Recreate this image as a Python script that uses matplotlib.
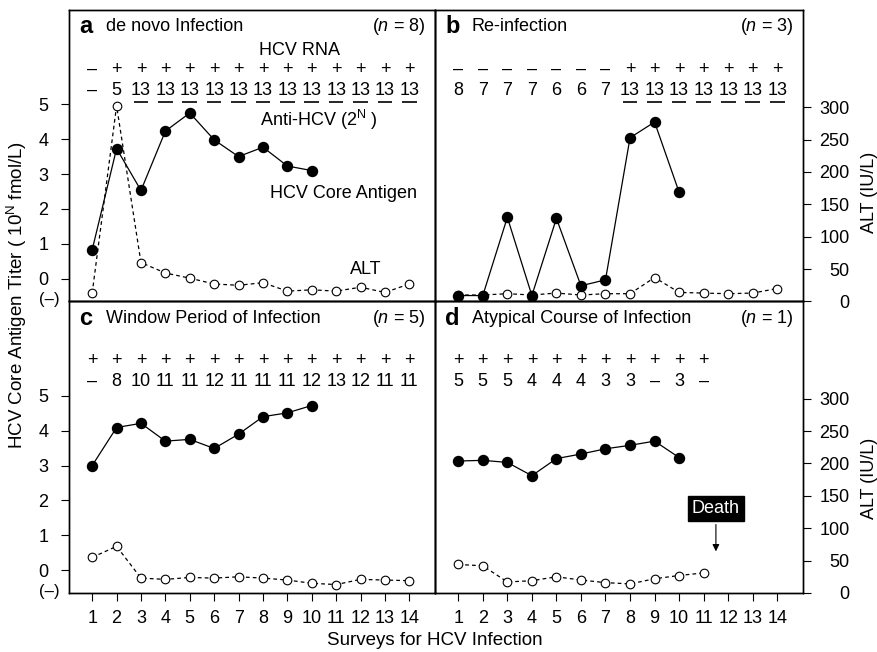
import numpy as np
import matplotlib.pyplot as plt
import matplotlib.transforms as mtransforms

plt.rcParams['font.family'] = ['Liberation Sans', 'DejaVu Sans']
plt.rcParams['mathtext.fontset'] = 'custom'
plt.rcParams['mathtext.rm'] = 'Liberation Sans'
plt.rcParams['mathtext.it'] = 'Liberation Sans:italic'

# ----------------------------------------------------------------------
# data
# ----------------------------------------------------------------------
surveys = np.arange(1, 15)

# a  de novo infection
a_antigen = [0.83, 3.73, 2.53, 4.23, 4.75, 3.98, 3.50, 3.77, 3.23, 3.10]
a_alt = [13, 302, 60, 44, 36, 27, 25, 29, 16, 18, 16, 22, 14, 27]
a_rna = ['–', '+', '+', '+', '+', '+', '+', '+', '+', '+', '+', '+', '+', '+']
a_anti = ['–', '5', '13', '13', '13', '13', '13', '13', '13', '13', '13', '13', '13', '13']

# b  re-infection
b_antigen = [-0.48, -0.48, 1.76, -0.48, 1.73, -0.2, -0.03, 4.04, 4.49, 2.48]
b_alt = [10, 10, 12, 10, 13, 10, 12, 12, 37, 14, 13, 12, 13, 20]
b_rna = ['–', '–', '–', '–', '–', '–', '–', '+', '+', '+', '+', '+', '+', '+']
b_anti = ['8', '7', '7', '7', '6', '6', '7', '13', '13', '13', '13', '13', '13', '13']

# c  window period
c_antigen = [3.00, 4.09, 4.21, 3.70, 3.75, 3.49, 3.90, 4.40, 4.51, 4.72]
c_alt = [55, 72, 23, 21, 24, 23, 25, 23, 20, 15, 13, 21, 20, 19]
c_rna = ['+'] * 14
c_anti = ['–', '8', '10', '11', '11', '12', '11', '11', '11', '12', '13', '12', '11', '11']

# d  atypical course
d_antigen = [3.13, 3.15, 3.09, 2.71, 3.20, 3.33, 3.48, 3.58, 3.70, 3.23]
d_alt = [44, 42, 17, 19, 25, 20, 16, 14, 22, 27, 31]
d_rna = ['+'] * 11
d_anti = ['5', '5', '5', '4', '4', '4', '3', '3', '–', '3', '–']

panels = [
    ('a', 'de novo Infection', 8, a_antigen, a_alt, a_rna, a_anti),
    ('b', 'Re-infection', 3, b_antigen, b_alt, b_rna, b_anti),
    ('c', 'Window Period of Infection', 5, c_antigen, c_alt, c_rna, c_anti),
    ('d', 'Atypical Course of Infection', 1, d_antigen, d_alt, d_rna, d_anti),
]

# ----------------------------------------------------------------------
# figure
# ----------------------------------------------------------------------
fig = plt.figure(figsize=(8.78, 6.52), dpi=100)

x0, xm, x1 = 0.0786, 0.4954, 0.9146
y0, ym, y1 = 0.0905, 0.5376, 0.9847
boxes = [
    [x0, ym, xm - x0, y1 - ym],
    [xm, ym, x1 - xm, y1 - ym],
    [x0, y0, xm - x0, ym - y0],
    [xm, y0, x1 - xm, ym - y0],
]

ylo, yhi = -0.65, 7.7
fs = 13

for i, (letter, title, n, antigen, alt, rna, anti) in enumerate(panels):
    ax = fig.add_axes(boxes[i])
    ax2 = ax.twinx()
    ax.set_zorder(ax2.get_zorder() + 1)
    ax.patch.set_visible(False)

    is_left = i % 2 == 0
    is_bottom = i >= 2

    ax2.plot(surveys[:len(alt)], alt, color='black', lw=0.9,
             linestyle=(0, (3, 2.5)), marker='o', ms=6.2, mfc='white',
             mec='black', mew=0.8)
    ax.plot(surveys[:len(antigen)], antigen, color='black', lw=0.9,
            marker='o', ms=7.2, mfc='black', mec='black')

    ax.set_xlim(0.05, 15.05)
    ax.set_ylim(ylo, yhi)
    ax2.set_ylim(0, 450)

    for sp in list(ax.spines.values()) + list(ax2.spines.values()):
        sp.set_linewidth(1.0)

    if is_left:
        ax.set_yticks([0, 1, 2, 3, 4, 5])
        ax.tick_params(axis='y', direction='out', length=6, pad=9,
                       labelsize=fs)
        # negative marker below zero
        trans = mtransforms.blended_transform_factory(ax.transAxes,
                                                      ax.transData)
        ax.text(-0.025, ylo + 0.05, '(–)', transform=trans, ha='right',
                va='center', fontsize=12)
        ax2.tick_params(right=False, labelright=False)
    else:
        ax.tick_params(axis='y', left=False, labelleft=False)
        ax2.set_yticks([0, 50, 100, 150, 200, 250, 300])
        ax2.tick_params(axis='y', direction='out', length=6, pad=27.5,
                        labelsize=fs)
        for lab in ax2.get_yticklabels():
            lab.set_ha('right')

    if is_bottom:
        ax.set_xticks(surveys)
        ax.tick_params(axis='x', direction='out', length=6, pad=6, labelsize=fs)
    else:
        ax.tick_params(axis='x', bottom=False, labelbottom=False)

    # panel heading
    ax.text(0.028, 0.942, letter, transform=ax.transAxes, fontsize=17,
            fontweight='bold', va='center', ha='left')
    ax.text(0.1, 0.942, title, transform=ax.transAxes, fontsize=fs,
            va='center', ha='left')
    ax.text(0.975, 0.942, '($\\mathit{n}$ = %d)' % n, transform=ax.transAxes,
            fontsize=fs, va='center', ha='right')

    # HCV RNA and anti-HCV rows
    for k in range(len(rna)):
        ax.text(surveys[k], 6.0, rna[k], fontsize=13, ha='center', va='center')
        ax.text(surveys[k], 5.4, anti[k], fontsize=fs, ha='center',
                va='center')
        if letter in 'ab' and anti[k] == '13':
            ax.hlines(5.05, surveys[k] - 0.3, surveys[k] + 0.3,
                      color='black', lw=1.2)

    if letter == 'a':
        ax.text(9.5, 6.55, 'HCV RNA', fontsize=fs, ha='center', va='center')
        ax.text(10.3, 4.55, 'Anti-HCV (2$^{\\rm N}$ )', fontsize=fs,
                ha='center', va='center')
        ax.text(11.3, 2.43, 'HCV Core Antigen', fontsize=fs, ha='center',
                va='center')
        ax.text(12.2, 0.28, 'ALT', fontsize=fs, ha='center', va='center')

    if letter == 'd':
        ax2.annotate('Death', xy=(11.5, 60), xytext=(11.5, 130),
                     ha='center', va='center', color='white', fontsize=fs,
                     bbox=dict(boxstyle='square,pad=0.22', fc='black',
                               ec='black'),
                     arrowprops=dict(arrowstyle='-|>', color='black', lw=0.8,
                                     mutation_scale=10))

fig.text(0.019, 0.547, 'HCV Core Antigen Titer ( 10$^{\\rm N}$ fmol/L)',
         rotation=90, ha='center', va='center', fontsize=13.5)
fig.text(0.99, 0.7055, 'ALT (IU/L)', rotation=90, ha='center', va='center',
         fontsize=fs)
fig.text(0.99, 0.267, 'ALT (IU/L)', rotation=90, ha='center', va='center',
         fontsize=fs)
fig.text(0.4954, 0.018, 'Surveys for HCV Infection', ha='center',
         va='center', fontsize=13.5)

fig.savefig('out.png', dpi=100)
